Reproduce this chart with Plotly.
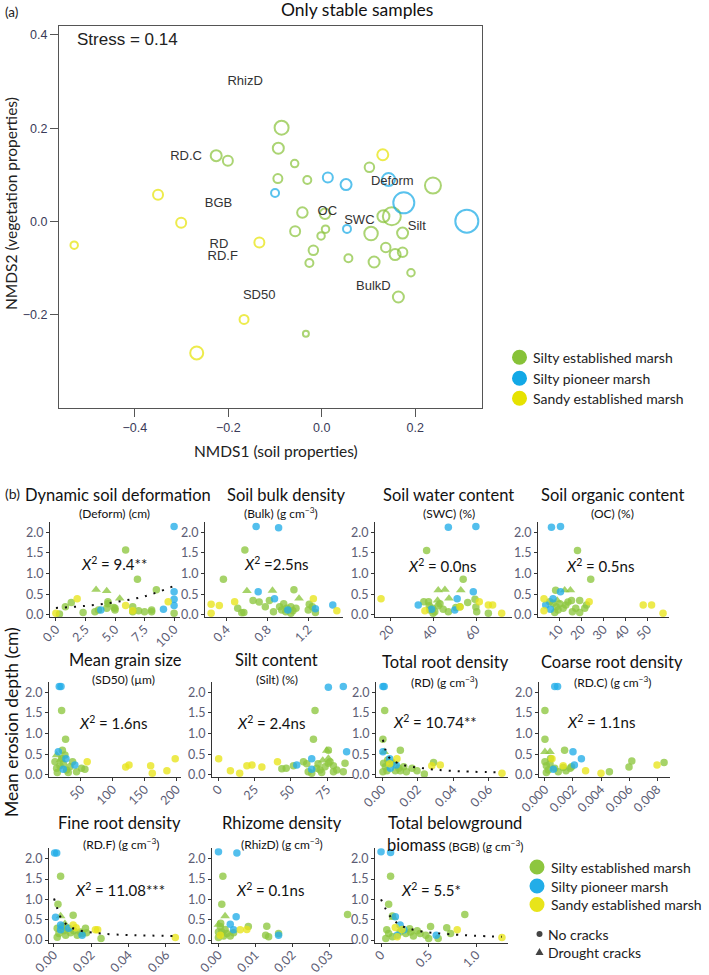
import plotly.graph_objects as go

W, H = 709, 975

# ---------------- Panel (a): NMDS ordination ----------------
NMDS_SE_X = [-0.086, -0.093, -0.226, -0.201, -0.058, -0.094, -0.031, 0.102, 0.238, -0.0415, 0.007, -0.057, 0.008,
             -0.0015, -0.018, -0.0265, 0.057, 0.1055, 0.132, 0.150, 0.173, 0.137, 0.157, 0.173, 0.112, 0.191, 0.164, -0.034]
NMDS_SE_Y = [0.201, 0.157, 0.141, 0.130, 0.124, 0.092, 0.089, 0.116, 0.077, 0.019, 0.0165, -0.021, -0.0165,
             -0.031, -0.062, -0.089, -0.079, -0.026, 0.011, 0.011, -0.025, -0.056, -0.071, -0.066, -0.087, -0.110, -0.162, -0.241]
NMDS_SE_SIZE = [14, 11, 11, 10, 7.5, 9, 8, 9.5, 16, 10.5, 10.5, 10, 7.5,
                7.5, 9.5, 8, 8, 13.5, 12, 18, 11, 9.5, 11, 9.5, 11, 7.5, 11, 6]
NMDS_SP_X = [-0.100, 0.013, 0.052, 0.143, 0.1756, 0.3105, 0.054]
NMDS_SP_Y = [0.061, 0.094, 0.079, 0.090, 0.040, 0.0006, -0.016]
NMDS_SP_SIZE = [8, 10, 11, 13, 21, 23, 8]
NMDS_SA_X = [-0.530, -0.3505, -0.301, -0.1336, 0.1306, -0.1664, -0.2677]
NMDS_SA_Y = [-0.051, 0.057, -0.003, -0.045, 0.143, -0.210, -0.282]
NMDS_SA_SIZE = [7.5, 10, 10, 10, 11, 9, 13]

VEC_LABELS = ["RhizD", "RD.C", "BGB", "RD", "RD.F", "SD50", "OC", "SWC", "Deform", "Silt", "BulkD"]
VEC_X = [-0.164, -0.2906, -0.221, -0.220, -0.212, -0.134, 0.012, 0.0805, 0.151, 0.2034, 0.1105]
VEC_Y = [0.300, 0.139, 0.038, -0.050, -0.0765, -0.159, 0.020, 0.002, 0.086, -0.011, -0.139]

NMDS_X_TICKS = [-0.4, -0.2, 0.0, 0.2]
NMDS_Y_TICKS = [-0.2, 0.0, 0.2, 0.4]
STRESS = 0.14

GROUPS = ["Silty established marsh", "Silty pioneer marsh", "Sandy established marsh"]

# ---------------- Panel (b): erosion depth vs. properties ----------------
# (property value, mean erosion depth, group, shape)  SE/SP/SA ; c = no cracks, t = drought cracks
DEFORM = [(10.0, 2.14, "SP", "c"), (5.9, 1.57, "SE", "c"), (6.9, 0.86, "SE", "c"), (8.5, 0.61, "SE", "c"),
          (10.0, 0.56, "SP", "c"), (3.4, 0.61, "SE", "t"), (4.3, 0.58, "SE", "t"), (5.4, 0.40, "SE", "t"),
          (1.8, 0.39, "SA", "c"), (1.3, 0.30, "SE", "c"), (0.8, 0.20, "SE", "c"), (4.4, 0.32, "SE", "c"),
          (4.4, 0.27, "SE", "c"), (10.0, 0.38, "SP", "c"), (10.0, 0.23, "SP", "c"), (5.9, 0.23, "SA", "c"),
          (9.5, 0.32, "SA", "c"), (6.5, 0.20, "SE", "c"), (5.0, 0.16, "SE", "c"), (4.3, 0.16, "SE", "c"),
          (3.6, 0.12, "SE", "c"), (3.8, 0.12, "SP", "c"), (6.5, 0.08, "SE", "c"), (7.0, 0.10, "SE", "c"),
          (7.5, 0.08, "SE", "c"), (8.1, 0.12, "SE", "c"), (8.1, 0.08, "SE", "c"), (9.1, 0.14, "SP", "c"),
          (10.0, 0.04, "SE", "c"), (2.3, 0.06, "SE", "c"), (0.0, 0.04, "SA", "c"), (0.3, 0.02, "SE", "c"),
          (6.5, 0.10, "SA", "c"), (3.3, 0.08, "SE", "c"), (4.9, 0.18, "SE", "c"), (5.0, 0.12, "SE", "c")]
DEFORM_FIT_X = [0, 2.5, 5, 7.5, 10]
DEFORM_FIT_Y = [0.17, 0.22, 0.31, 0.45, 0.70]

BULK = [(0.69, 2.14, "SP", "c"), (0.91, 2.11, "SP", "c"), (0.58, 1.57, "SE", "c"), (0.37, 0.86, "SE", "c"),
        (0.60, 0.58, "SE", "t"), (0.71, 0.56, "SP", "c"), (0.85, 0.59, "SE", "t"), (0.87, 0.39, "SP", "c"),
        (1.06, 0.61, "SE", "c"), (1.11, 0.40, "SE", "t"), (1.25, 0.39, "SA", "c"), (0.33, 0.23, "SA", "c"),
        (0.25, 0.26, "SA", "c"), (0.25, 0.04, "SA", "c"), (0.48, 0.32, "SA", "c"), (0.51, 0.16, "SE", "c"),
        (0.57, 0.06, "SE", "c"), (0.66, 0.35, "SE", "c"), (0.72, 0.31, "SE", "c"), (0.78, 0.20, "SE", "c"),
        (0.82, 0.35, "SE", "c"), (0.86, 0.08, "SE", "c"), (0.92, 0.20, "SE", "c"), (0.96, 0.27, "SE", "c"),
        (0.99, 0.16, "SE", "c"), (1.03, 0.20, "SE", "c"), (1.05, 0.10, "SE", "c"), (1.08, 0.16, "SE", "c"),
        (1.03, 0.04, "SE", "c"), (0.98, 0.08, "SE", "c"), (0.94, 0.12, "SE", "c"), (1.20, 0.12, "SE", "c"),
        (1.21, 0.26, "SE", "c"), (1.27, 0.06, "SE", "c"), (1.24, 0.20, "SE", "c"), (1.00, 0.12, "SP", "c"),
        (1.27, 0.15, "SP", "c"), (1.44, 0.24, "SP", "c"), (1.48, 0.10, "SA", "c"), (0.55, 0.05, "SE", "c")]

SWC = [(47.0, 2.12, "SP", "c"), (59.8, 2.14, "SP", "c"), (36.9, 1.56, "SE", "c"), (53.9, 0.86, "SE", "c"),
       (58.6, 0.56, "SP", "c"), (42.3, 0.60, "SE", "t"), (45.4, 0.61, "SE", "t"), (47.3, 0.40, "SE", "t"),
       (52.8, 0.60, "SE", "t"), (51.1, 0.39, "SP", "c"), (15.7, 0.39, "SA", "c"), (33.0, 0.24, "SP", "c"),
       (39.2, 0.14, "SP", "c"), (50.0, 0.12, "SP", "c"), (36.1, 0.10, "SA", "c"), (52.4, 0.19, "SA", "c"),
       (61.4, 0.32, "SA", "c"), (65.6, 0.24, "SA", "c"), (67.6, 0.24, "SA", "c"), (71.8, 0.04, "SA", "c"),
       (35.6, 0.32, "SE", "c"), (38.1, 0.22, "SE", "c"), (39.7, 0.16, "SE", "c"), (40.7, 0.08, "SE", "c"),
       (42.3, 0.22, "SE", "c"), (43.1, 0.27, "SE", "c"), (44.6, 0.14, "SE", "c"), (47.0, 0.08, "SE", "c"),
       (50.5, 0.18, "SE", "c"), (52.4, 0.20, "SE", "c"), (56.0, 0.30, "SE", "c"), (59.4, 0.38, "SE", "c"),
       (59.8, 0.19, "SE", "c"), (60.2, 0.08, "SE", "c"), (65.6, 0.04, "SE", "c"), (39.9, 0.04, "SE", "c"),
       (38.4, 0.12, "SE", "c"), (37.8, 0.32, "SE", "c"), (42.0, 0.35, "SE", "t")]

OC = [(6.4, 2.12, "SP", "c"), (10.5, 2.14, "SP", "c"), (18.2, 1.56, "SE", "c"), (24.2, 0.86, "SE", "c"),
      (10.5, 0.56, "SP", "c"), (8.3, 0.60, "SE", "c"), (12.4, 0.60, "SE", "t"), (15.0, 0.60, "SE", "t"),
      (7.1, 0.39, "SP", "c"), (3.8, 0.24, "SP", "c"), (5.9, 0.14, "SP", "c"), (3.0, 0.39, "SA", "c"),
      (3.0, 0.10, "SA", "c"), (23.5, 0.32, "SA", "c"), (48.0, 0.24, "SA", "c"), (51.8, 0.24, "SA", "c"),
      (57.0, 0.04, "SA", "c"), (5.6, 0.32, "SE", "c"), (7.1, 0.28, "SE", "c"), (8.6, 0.20, "SE", "c"),
      (9.4, 0.12, "SE", "c"), (10.2, 0.27, "SE", "c"), (11.7, 0.16, "SE", "c"), (12.9, 0.24, "SE", "c"),
      (13.9, 0.31, "SE", "c"), (15.5, 0.35, "SE", "c"), (19.2, 0.35, "SE", "c"), (15.9, 0.08, "SE", "c"),
      (17.4, 0.16, "SE", "c"), (21.5, 0.16, "SE", "c"), (7.9, 0.06, "SE", "c"), (19.2, 0.06, "SE", "c"),
      (22.3, 0.24, "SE", "c"), (9.0, 0.35, "SE", "t")]

SD50 = [(16.1, 2.14, "SP", "c"), (18.8, 2.14, "SP", "c"), (19.8, 1.56, "SE", "c"), (26.0, 0.86, "SE", "c"),
        (14.6, 0.56, "SP", "c"), (26.6, 0.39, "SP", "c"), (40.6, 0.24, "SP", "c"), (22.4, 0.14, "SP", "c"),
        (59.9, 0.32, "SA", "c"), (120.3, 0.19, "SA", "c"), (125.5, 0.24, "SA", "c"), (159.4, 0.22, "SA", "c"),
        (162.0, 0.04, "SA", "c"), (184.9, 0.10, "SA", "c"), (197.9, 0.39, "SA", "c"), (9.4, 0.32, "SE", "c"),
        (12.0, 0.16, "SE", "c"), (17.2, 0.22, "SE", "c"), (22.4, 0.27, "SE", "c"), (27.6, 0.12, "SE", "c"),
        (32.8, 0.20, "SE", "c"), (37.0, 0.32, "SE", "c"), (43.2, 0.08, "SE", "c"), (51.0, 0.16, "SE", "c"),
        (56.3, 0.14, "SE", "c"), (13.0, 0.06, "SE", "c"), (30.2, 0.06, "SE", "c"), (19.8, 0.40, "SE", "c"),
        (25.0, 0.48, "SE", "c"), (12.0, 0.48, "SE", "t"), (21.0, 0.60, "SE", "c"), (18.0, 0.36, "SE", "t")]

SILT = [(75.9, 2.12, "SP", "c"), (86.2, 2.14, "SP", "c"), (66.7, 1.56, "SE", "c"), (65.6, 0.86, "SE", "c"),
        (88.5, 0.56, "SP", "c"), (75.9, 0.60, "SE", "c"), (74.8, 0.59, "SE", "t"), (64.4, 0.39, "SP", "c"),
        (54.1, 0.24, "SP", "c"), (64.4, 0.14, "SP", "c"), (0.2, 0.39, "SA", "c"), (8.3, 0.10, "SA", "c"),
        (14.7, 0.04, "SA", "c"), (19.7, 0.22, "SA", "c"), (23.2, 0.24, "SA", "c"), (30.0, 0.19, "SA", "c"),
        (40.8, 0.32, "SA", "c"), (43.8, 0.15, "SE", "c"), (46.8, 0.16, "SE", "c"), (51.8, 0.22, "SE", "c"),
        (58.7, 0.32, "SE", "c"), (61.0, 0.27, "SE", "c"), (62.0, 0.08, "SE", "c"), (64.4, 0.04, "SE", "c"),
        (67.9, 0.16, "SE", "c"), (70.2, 0.12, "SE", "c"), (71.3, 0.06, "SE", "c"), (73.6, 0.20, "SE", "c"),
        (77.0, 0.32, "SE", "c"), (79.4, 0.22, "SE", "c"), (81.7, 0.12, "SE", "c"), (86.2, 0.08, "SE", "c"),
        (87.4, 0.28, "SE", "c"), (79.4, 0.08, "SE", "c"), (75.9, 0.28, "SE", "c"), (68.8, 0.27, "SE", "c"),
        (75.9, 0.40, "SE", "t"), (72.0, 0.35, "SE", "t")]

RD = [(0.0005, 2.14, "SP", "c"), (0.0012, 2.14, "SP", "c"), (0.0015, 1.56, "SE", "c"), (0.0005, 0.86, "SE", "c"),
      (0.0005, 0.56, "SP", "c"), (0.0103, 0.60, "SE", "c"), (0.0012, 0.56, "SE", "t"), (0.0043, 0.39, "SP", "c"),
      (0.0047, 0.16, "SP", "c"), (0.0080, 0.24, "SP", "c"), (0.0084, 0.39, "SA", "c"), (0.0280, 0.22, "SA", "c"),
      (0.0328, 0.24, "SA", "c"), (0.0675, 0.04, "SA", "c"), (0.0043, 0.27, "SA", "c"), (0.0005, 0.08, "SE", "c"),
      (0.0009, 0.28, "SE", "c"), (0.0019, 0.20, "SE", "c"), (0.0032, 0.36, "SE", "c"), (0.0056, 0.27, "SE", "c"),
      (0.0075, 0.10, "SE", "c"), (0.0094, 0.16, "SE", "c"), (0.0103, 0.10, "SE", "c"), (0.0122, 0.20, "SE", "c"),
      (0.0137, 0.08, "SE", "c"), (0.0169, 0.16, "SE", "c"), (0.0290, 0.30, "SE", "c"), (0.0238, 0.02, "SE", "c"),
      (0.0197, 0.10, "SE", "c"), (0.0028, 0.10, "SE", "c"), (0.0065, 0.30, "SE", "t")]
RD_FIT_X = [0.0005, 0.002, 0.0047, 0.0122, 0.0234, 0.0384, 0.0675]
RD_FIT_Y = [0.85, 0.60, 0.39, 0.24, 0.16, 0.10, 0.06]

RDC = [(0.0007, 2.14, "SP", "c"), (0.0009, 2.14, "SP", "c"), (0.0, 1.56, "SE", "c"), (0.0, 0.86, "SE", "c"),
       (0.0020, 0.56, "SP", "c"), (0.0014, 0.60, "SE", "c"), (0.0, 0.56, "SE", "t"), (0.00036, 0.56, "SE", "t"),
       (0.0026, 0.39, "SP", "c"), (0.0021, 0.24, "SP", "c"), (0.0006, 0.14, "SP", "c"), (0.0005, 0.39, "SA", "c"),
       (0.0013, 0.22, "SA", "c"), (0.0029, 0.10, "SA", "c"), (0.0040, 0.04, "SA", "c"), (0.0080, 0.24, "SA", "c"),
       (0.0, 0.32, "SE", "c"), (0.0001, 0.22, "SE", "c"), (0.00024, 0.12, "SE", "c"), (0.00036, 0.27, "SE", "c"),
       (0.0007, 0.16, "SE", "c"), (0.00095, 0.08, "SE", "c"), (0.0013, 0.18, "SE", "c"), (0.0015, 0.10, "SE", "c"),
       (0.0018, 0.16, "SE", "c"), (0.0019, 0.20, "SE", "c"), (0.0046, 0.08, "SE", "c"), (0.0060, 0.19, "SE", "c"),
       (0.0062, 0.34, "SE", "c"), (0.0085, 0.30, "SE", "c"), (0.0001, 0.06, "SE", "c"), (0.0004, 0.40, "SE", "c")]

RDF = [(0.0005, 2.14, "SP", "c"), (0.0016, 2.14, "SP", "c"), (0.0037, 1.57, "SE", "c"), (0.0023, 0.88, "SE", "c"),
       (0.0010, 0.56, "SP", "c"), (0.0037, 0.59, "SE", "t"), (0.0104, 0.61, "SE", "c"), (0.0037, 0.37, "SP", "c"),
       (0.0080, 0.29, "SP", "c"), (0.0037, 0.25, "SP", "c"), (0.0152, 0.12, "SP", "c"), (0.0104, 0.37, "SA", "c"),
       (0.0223, 0.25, "SA", "c"), (0.0235, 0.25, "SA", "c"), (0.0650, 0.06, "SA", "c"), (0.0120, 0.30, "SA", "c"),
       (0.0019, 0.29, "SE", "c"), (0.0028, 0.16, "SE", "c"), (0.0046, 0.34, "SE", "c"), (0.0055, 0.23, "SE", "c"),
       (0.0064, 0.12, "SE", "c"), (0.0072, 0.29, "SE", "c"), (0.0090, 0.18, "SE", "c"), (0.0108, 0.23, "SE", "c"),
       (0.0126, 0.12, "SE", "c"), (0.0143, 0.20, "SE", "c"), (0.0152, 0.16, "SE", "c"), (0.0170, 0.29, "SE", "c"),
       (0.0175, 0.18, "SE", "c"), (0.0253, 0.04, "SE", "c"), (0.0019, 0.07, "SE", "c"), (0.0060, 0.40, "SE", "t")]
RDF_FIT_X = [0.0002, 0.0019, 0.0037, 0.0072, 0.0126, 0.025, 0.0426, 0.065]
RDF_FIT_Y = [1.02, 0.78, 0.56, 0.37, 0.25, 0.16, 0.12, 0.10]

RHIZD = [(0.0, 2.17, "SP", "c"), (0.0050, 2.14, "SP", "c"), (0.0012, 1.57, "SE", "c"), (0.0009, 0.88, "SE", "c"),
         (0.0048, 0.57, "SP", "c"), (0.0018, 0.59, "SE", "t"), (0.0350, 0.63, "SE", "c"), (0.0032, 0.39, "SP", "c"),
         (0.0041, 0.25, "SP", "c"), (0.0163, 0.12, "SP", "c"), (0.0059, 0.25, "SA", "c"), (0.0077, 0.26, "SA", "c"),
         (0.0005, 0.12, "SA", "c"), (0.0131, 0.34, "SE", "c"), (0.0128, 0.12, "SE", "c"), (0.0136, 0.08, "SE", "c"),
         (0.0163, 0.16, "SE", "c"), (0.0081, 0.33, "SE", "c"), (0.0005, 0.33, "SE", "c"), (0.0009, 0.20, "SE", "c"),
         (0.0014, 0.10, "SE", "c"), (0.0018, 0.26, "SE", "c"), (0.0023, 0.16, "SE", "c"), (0.0032, 0.10, "SE", "c"),
         (0.0041, 0.18, "SE", "c"), (0.0006, 0.41, "SE", "c"), (0.0, 0.20, "SE", "c"), (0.0, 0.06, "SE", "c"),
         (0.0, 0.38, "SE", "t")]

BGB = [(0.0, 2.17, "SP", "c"), (0.10, 2.15, "SP", "c"), (0.10, 1.57, "SE", "c"), (0.08, 0.88, "SE", "c"),
       (0.88, 0.63, "SE", "c"), (0.15, 0.57, "SP", "c"), (0.12, 0.59, "SE", "c"), (0.13, 0.55, "SE", "t"),
       (0.20, 0.37, "SP", "c"), (0.24, 0.25, "SP", "c"), (0.58, 0.12, "SP", "c"), (0.17, 0.12, "SP", "c"),
       (0.15, 0.31, "SA", "c"), (0.22, 0.26, "SA", "c"), (0.80, 0.25, "SA", "c"), (1.27, 0.06, "SA", "c"),
       (0.17, 0.08, "SA", "c"), (0.52, 0.33, "SE", "c"), (0.69, 0.30, "SE", "c"), (0.73, 0.16, "SE", "c"),
       (0.50, 0.04, "SE", "c"), (0.60, 0.04, "SE", "c"), (0.06, 0.25, "SE", "c"), (0.08, 0.16, "SE", "c"),
       (0.12, 0.08, "SE", "c"), (0.26, 0.16, "SE", "c"), (0.31, 0.20, "SE", "c"), (0.34, 0.10, "SE", "c"),
       (0.38, 0.23, "SE", "c"), (0.41, 0.16, "SE", "c"), (0.47, 0.12, "SE", "c"), (0.05, 0.04, "SE", "c"),
       (0.30, 0.28, "SE", "c"), (0.20, 0.20, "SE", "c")]
BGB_FIT_X = [0.0, 0.10, 0.20, 0.38, 0.73, 1.27]
BGB_FIT_Y = [1.00, 0.57, 0.37, 0.23, 0.14, 0.08]

TITLES = ["Dynamic soil deformation", "Soil bulk density", "Soil water content", "Soil organic content",
          "Mean grain size", "Silt content", "Total root density", "Coarse root density",
          "Fine root density", "Rhizome density", "Total belowground"]
SUBTITLES = ["(Deform) (cm)", "(Bulk) (g cm<sup>−3</sup>)", "(SWC) (%)", "(OC) (%)",
             "(SD50) (µm)", "(Silt) (%)", "(RD) (g cm<sup>−3</sup>)", "(RD.C) (g cm<sup>−3</sup>)",
             "(RD.F) (g cm<sup>−3</sup>)", "(RhizD) (g cm<sup>−3</sup>)", "(BGB) (g cm<sup>−3</sup>)"]
CHI2 = ["9.4**", "=2.5ns", "0.0ns", "0.5ns", "1.6ns", "2.4ns", "10.74**", "1.1ns", "11.08***", "0.1ns", "5.5*"]
X_TICKS = [[0, 2.5, 5, 7.5, 10], [0.4, 0.8, 1.2], [20, 40, 60], [10, 20, 30, 40, 50],
           [50, 100, 150, 200], [0, 25, 50, 75], [0, 0.02, 0.04, 0.06], [0, 0.002, 0.004, 0.006, 0.008],
           [0, 0.02, 0.04, 0.06], [0, 0.01, 0.02, 0.03], [0, 0.5, 1.0]]
X_TICKTEXT = [["0.0", "2.5", "5.0", "7.5", "10.0"], ["0.4", "0.8", "1.2"], ["20", "40", "60"],
              ["10", "20", "30", "40", "50"], ["50", "100", "150", "200"], ["0", "25", "50", "75"],
              ["0.00", "0.02", "0.04", "0.06"], ["0.000", "0.002", "0.004", "0.006", "0.008"],
              ["0.00", "0.02", "0.04", "0.06"], ["0.00", "0.01", "0.02", "0.03"], ["0", "0.5", "1.0"]]
Y_TICKS = [0, 0.5, 1.0, 1.5, 2.0]
Y_TICKTEXT = ["0.0", "0.5", "1.0", "1.5", "2.0"]

PANEL_DATA = [DEFORM, BULK, SWC, OC, SD50, SILT, RD, RDC, RDF, RHIZD, BGB]
FITS = {0: (DEFORM_FIT_X, DEFORM_FIT_Y), 6: (RD_FIT_X, RD_FIT_Y), 8: (RDF_FIT_X, RDF_FIT_Y), 10: (BGB_FIT_X, BGB_FIT_Y)}

# ---------------- layout geometry (pixels) ----------------
X_DOM_PX = [(50, 180), (205, 343), (375, 512), (538, 669),
            (49, 181), (212, 353), (376, 508), (539, 670),
            (49, 180), (212, 354), (375, 508)]
X_RANGES = [[-0.5, 10.5], [0.19, 1.54], [12.9, 76.6], [0.3, 59.7],
            [0, 207], [-4.4, 92.9], [-0.0034, 0.0709], [-0.000425, 0.008925],
            [-0.0025, 0.0675], [-0.00175, 0.03675], [-0.0635, 1.3335]]
ROW_Y_PX = [(522.3, 617.3), (682.3, 777.3), (848.3, 942.7)]
ROW_Y_RANGE = [[-0.057, 2.24], [-0.057, 2.24], [-0.066, 2.256]]
TITLE_POS = [(118, 495), (286, 495), (448, 495), (612, 495),
             (125, 660), (276, 660), (445, 661.5), (612, 661.5),
             (120, 823), (282, 823), (455, 823)]
SUB_POS = [(114, 513), (281, 513), (449, 513), (612, 513),
           (123, 679.5), (277, 679.5), (444, 681.5), (612, 681.5),
           (121, 843.5), (282, 843.5), (455, 845)]
CHI_POS = [(114, 563), (276, 563), (442, 565), (600, 565),
           (113, 722.5), (271, 722.5), (435, 721.5), (601, 721.5),
           (120, 889), (270, 889), (431, 889)]

COLORS_A = {"SE": "#87C238", "SP": "#12A8E6", "SA": "#E6E200"}
COLORS_B = {"SE": "#8DC63F", "SP": "#22ADE8", "SA": "#E8E41A"}

TITLE_FONT = "Lato, 'Open Sans', sans-serif"
R_FONT = "'Liberation Sans', Arial, sans-serif"


def px_x(px):
    return px / W


def px_y(py):
    return 1 - py / H


def note(px, py, text, size, color="#111111", family=TITLE_FONT, xanchor="center", angle=0):
    return dict(x=px_x(px), y=px_y(py), xref="paper", yref="paper", text=text, showarrow=False,
                xanchor=xanchor, yanchor="middle", textangle=angle,
                font=dict(family=family, size=size, color=color))


fig = go.Figure()
layout = {}
annotations = []
shapes = []

# ----- panel (a)
for xs, ys, ss, key in [(NMDS_SE_X, NMDS_SE_Y, NMDS_SE_SIZE, "SE"),
                        (NMDS_SP_X, NMDS_SP_Y, NMDS_SP_SIZE, "SP"),
                        (NMDS_SA_X, NMDS_SA_Y, NMDS_SA_SIZE, "SA")]:
    fig.add_trace(go.Scatter(x=xs, y=ys, mode="markers", xaxis="x", yaxis="y", showlegend=False,
                             marker=dict(symbol="circle-open", size=ss, color=COLORS_A[key],
                                         line=dict(width=2, color=COLORS_A[key]))))
fig.add_trace(go.Scatter(x=VEC_X, y=VEC_Y, mode="text", text=VEC_LABELS, xaxis="x", yaxis="y",
                         showlegend=False, textfont=dict(family=R_FONT, size=13, color="#333333")))

axis_a = dict(showgrid=False, zeroline=False, showline=True, mirror=True, linecolor="#555555", linewidth=1,
              ticks="outside", ticklen=8, tickcolor="#555555", tickformat=".1f",
              tickfont=dict(family=R_FONT, size=12.5, color="#3a3a58"))
layout["xaxis"] = dict(axis_a, domain=[px_x(59), px_x(482)], range=[-0.5625, 0.343], tickvals=NMDS_X_TICKS,
                       anchor="y")
layout["yaxis"] = dict(axis_a, domain=[px_y(408), px_y(26)], range=[-0.4, 0.419], tickvals=NMDS_Y_TICKS,
                       anchor="x")
annotations.append(dict(x=-0.415, y=0.389, xref="x", yref="y", text=f"Stress = {STRESS:.2f}", showarrow=False,
                        xanchor="center", yanchor="middle",
                        font=dict(family=R_FONT, size=17, color="#222222")))
annotations.append(note(357, 10, "Only stable samples", 17.5))
annotations.append(note(11, 12, "(a)", 13.5, "#222222"))
annotations.append(note(276, 451, "NMDS1 (soil properties)", 15.5, "#222222"))
annotations.append(note(11, 204, "NMDS2 (vegetation properties)", 15.5, "#222222", angle=-90))

# legend (a)
for i, key in enumerate(["SE", "SP", "SA"]):
    cy = [357.3, 378.3, 398.3][i]
    shapes.append(dict(type="circle", xref="paper", yref="paper", xsizemode="pixel", ysizemode="pixel",
                       xanchor=px_x(519.5), yanchor=px_y(cy), x0=-7.5, x1=7.5, y0=-7.5, y1=7.5,
                       fillcolor=COLORS_A[key], line=dict(width=0)))
    annotations.append(note(531, cy, GROUPS[i], 14, "#222222", xanchor="left"))

# ----- panel (b)
axis_b = dict(showgrid=False, zeroline=False, showline=True, mirror=False, linecolor="#333333", linewidth=1,
              ticks="outside", ticklen=3, tickcolor="#333333",
              tickfont=dict(family=TITLE_FONT, size=12.5, color="#5c5c74"))
for p, data in enumerate(PANEL_DATA):
    n = p + 2
    row = p // 4
    xa, ya = f"x{n}", f"y{n}"
    for key in ["SE", "SP", "SA"]:
        for shp, sym, sz in [("c", "circle", 7.5), ("t", "triangle-up", 8.5)]:
            pts = [d for d in data if d[2] == key and d[3] == shp]
            if not pts:
                continue
            fig.add_trace(go.Scatter(x=[d[0] for d in pts], y=[d[1] for d in pts], mode="markers",
                                     xaxis=xa, yaxis=ya, showlegend=False,
                                     marker=dict(symbol=sym, size=sz, color=COLORS_B[key], opacity=0.78,
                                                 line=dict(width=0))))
    if p in FITS:
        fx, fy = FITS[p]
        fig.add_trace(go.Scatter(x=fx, y=fy, mode="lines", xaxis=xa, yaxis=ya, showlegend=False,
                                 line=dict(color="#111111", width=2, dash="2px,7px", shape="spline",
                                           smoothing=1.0)))
    x0, x1 = X_DOM_PX[p]
    ytop, ybot = ROW_Y_PX[row]
    layout[f"xaxis{n}"] = dict(axis_b, domain=[px_x(x0), px_x(x1)], range=X_RANGES[p], tickvals=X_TICKS[p],
                               ticktext=X_TICKTEXT[p], tickangle=-45, anchor=ya, ticklabelstandoff=-4)
    layout[f"yaxis{n}"] = dict(axis_b, domain=[px_y(ybot), px_y(ytop)], range=ROW_Y_RANGE[row],
                               tickvals=Y_TICKS, ticktext=Y_TICKTEXT, anchor=xa)
    tx, ty = TITLE_POS[p]
    annotations.append(note(tx, ty, TITLES[p], 16.5))
    sx, sy = SUB_POS[p]
    sub = SUBTITLES[p]
    if p == 10:
        sub = "<span style='font-size:16.5px'>biomass</span> " + sub
    annotations.append(note(sx, sy, sub, 12))
    cx, cy = CHI_POS[p]
    chi = CHI2[p]
    chi_text = "<i>X</i><sup>2</sup> " + (chi if chi.startswith("=") else "= " + chi)
    annotations.append(note(cx, cy, chi_text, 15))

annotations.append(note(12, 493, "(b)", 14, "#222222"))
annotations.append(note(11, 722, "Mean erosion depth (cm)", 17.5, angle=-90))

# legend (b)
for i, key in enumerate(["SE", "SP", "SA"]):
    cy = [867, 886, 904.5][i]
    shapes.append(dict(type="circle", xref="paper", yref="paper", xsizemode="pixel", ysizemode="pixel",
                       xanchor=px_x(537), yanchor=px_y(cy), x0=-7.5, x1=7.5, y0=-7.5, y1=7.5,
                       fillcolor=COLORS_B[key], line=dict(width=0)))
    annotations.append(note(549, cy, GROUPS[i], 14, "#222222", xanchor="left"))
shapes.append(dict(type="circle", xref="paper", yref="paper", xsizemode="pixel", ysizemode="pixel",
                   xanchor=px_x(539.5), yanchor=px_y(934), x0=-3, x1=3, y0=-3, y1=3,
                   fillcolor="#444444", line=dict(width=0)))
shapes.append(dict(type="path", xref="paper", yref="paper", xsizemode="pixel", ysizemode="pixel",
                   xanchor=px_x(539.5), yanchor=px_y(952), path="M -4,-3 L 4,-3 L 0,4 Z",
                   fillcolor="#444444", line=dict(width=0)))
annotations.append(note(546, 934, "No cracks", 14, "#222222", xanchor="left"))
annotations.append(note(546, 952, "Drought cracks", 14, "#222222", xanchor="left"))

fig.update_layout(width=W, height=H, autosize=False, margin=dict(l=0, r=0, t=0, b=0, pad=0, autoexpand=False),
                  paper_bgcolor="white", plot_bgcolor="white", showlegend=False,
                  annotations=annotations, shapes=shapes, **layout)
fig.write_html("out.html", config={"displayModeBar": False},
               post_script="document.body.style.margin='0px';")
